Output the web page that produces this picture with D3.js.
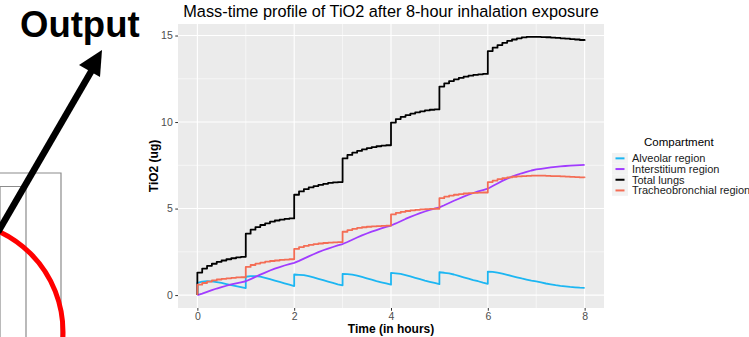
<!DOCTYPE html>
<html>
<head>
<meta charset="utf-8">
<script src="https://cdn.jsdelivr.net/npm/d3@7"></script>
<style>
body { margin: 0; background: #fff; }
svg { display: block; font-family: "Liberation Sans", Arial, sans-serif; }
</style>
</head>
<body>
<script>
// time grid (hours), each whole hour twice: value before and after the dose
var hours = [
0, 0, 0.1, 0.2, 0.3, 0.4, 0.5, 0.6, 0.7, 0.8, 0.9,
1, 1, 1.1, 1.2, 1.3, 1.4, 1.5, 1.6, 1.7, 1.8, 1.9,
2, 2, 2.1, 2.2, 2.3, 2.4, 2.5, 2.6, 2.7, 2.8, 2.9,
3, 3, 3.1, 3.2, 3.3, 3.4, 3.5, 3.6, 3.7, 3.8, 3.9,
4, 4, 4.1, 4.2, 4.3, 4.4, 4.5, 4.6, 4.7, 4.8, 4.9,
5, 5, 5.1, 5.2, 5.3, 5.4, 5.5, 5.6, 5.7, 5.8, 5.9,
6, 6, 6.1, 6.2, 6.3, 6.4, 6.5, 6.6, 6.7, 6.8, 6.9,
7, 7, 7.1, 7.2, 7.3, 7.4, 7.5, 7.6, 7.7, 7.8, 7.9,
8
];

var alveolar = [
0, 0.7, 0.78, 0.8, 0.79, 0.75, 0.7, 0.64, 0.58, 0.52, 0.46,
0.4, 1.06, 1.1, 1.1, 1.07, 1.0, 0.92, 0.84, 0.76, 0.68, 0.6,
0.52, 1.19, 1.17, 1.15, 1.1, 1.02, 0.94, 0.86, 0.78, 0.7, 0.62,
0.56, 1.23, 1.21, 1.18, 1.13, 1.05, 0.97, 0.89, 0.81, 0.74, 0.67,
0.6, 1.28, 1.25, 1.22, 1.16, 1.08, 1.0, 0.92, 0.84, 0.77, 0.7,
0.63, 1.32, 1.29, 1.25, 1.19, 1.11, 1.03, 0.95, 0.87, 0.8, 0.72,
0.65, 1.36, 1.34, 1.3, 1.24, 1.17, 1.1, 1.03, 0.96, 0.9, 0.84,
0.79, 0.79, 0.73, 0.67, 0.62, 0.57, 0.53, 0.5, 0.47, 0.45, 0.43,
0.42
];

var interstitium = [
0, 0, 0.09, 0.19, 0.29, 0.38, 0.46, 0.54, 0.62, 0.68, 0.74,
0.8, 0.8, 0.92, 1.05, 1.18, 1.3, 1.42, 1.53, 1.62, 1.71, 1.79,
1.86, 1.86, 1.98, 2.11, 2.24, 2.36, 2.48, 2.59, 2.69, 2.78, 2.87,
2.95, 2.95, 3.07, 3.2, 3.33, 3.45, 3.56, 3.67, 3.76, 3.85, 3.94,
4.02, 4.02, 4.14, 4.27, 4.4, 4.52, 4.63, 4.74, 4.83, 4.92, 5.0,
5.07, 5.07, 5.19, 5.32, 5.45, 5.57, 5.69, 5.8, 5.9, 5.99, 6.07,
6.15, 6.15, 6.3, 6.45, 6.6, 6.73, 6.85, 6.95, 7.04, 7.12, 7.2,
7.26, 7.26, 7.3, 7.34, 7.38, 7.41, 7.44, 7.46, 7.48, 7.5, 7.51,
7.52
];

var totalLungs = [
0, 1.3, 1.53, 1.69, 1.81, 1.92, 2.0, 2.07, 2.13, 2.18, 2.21,
2.24, 3.55, 3.78, 3.93, 4.05, 4.15, 4.24, 4.31, 4.36, 4.4, 4.43,
4.45, 5.8, 5.99, 6.12, 6.22, 6.3, 6.37, 6.43, 6.48, 6.51, 6.53,
6.55, 7.9, 8.1, 8.23, 8.33, 8.42, 8.49, 8.55, 8.6, 8.64, 8.66,
8.68, 9.97, 10.17, 10.3, 10.4, 10.49, 10.56, 10.62, 10.67, 10.71, 10.73,
10.75, 12.05, 12.24, 12.37, 12.47, 12.55, 12.62, 12.68, 12.73, 12.76, 12.78,
12.8, 14.1, 14.3, 14.45, 14.58, 14.69, 14.77, 14.84, 14.89, 14.92, 14.92,
14.92, 14.92, 14.91, 14.9, 14.88, 14.86, 14.84, 14.82, 14.79, 14.77, 14.74,
14.7
];

var tracheobronchial = [
0, 0.6, 0.7, 0.78, 0.85, 0.9, 0.94, 0.97, 1.0, 1.02, 1.03,
1.04, 1.63, 1.74, 1.82, 1.88, 1.93, 1.97, 2.0, 2.03, 2.05, 2.07,
2.08, 2.67, 2.77, 2.84, 2.9, 2.95, 2.98, 3.01, 3.03, 3.05, 3.06,
3.07, 3.66, 3.76, 3.83, 3.88, 3.92, 3.95, 3.97, 3.99, 4.0, 4.01,
4.02, 4.66, 4.75, 4.81, 4.86, 4.9, 4.93, 4.95, 4.97, 4.98, 4.99,
5.0, 5.6, 5.69, 5.75, 5.8, 5.84, 5.87, 5.89, 5.91, 5.92, 5.93,
5.94, 6.53, 6.62, 6.7, 6.76, 6.8, 6.84, 6.86, 6.88, 6.89, 6.9,
6.9, 6.9, 6.9, 6.89, 6.88, 6.87, 6.86, 6.85, 6.83, 6.82, 6.8,
6.78
];

var compartments = ["Alveolar region", "Interstitium region", "Total lungs", "Tracheobronchial region"];
var seriesValues = [alveolar, interstitium, totalLungs, tracheobronchial];
var colours = ["#1cb6f2", "#a13cff", "#000000", "#f46d55"];
var stepped = [false, false, true, true];

var xTicks = [0, 2, 4, 6, 8];
var xMinor = [1, 3, 5, 7];
var yTicks = [0, 5, 10, 15];
var yMinor = [2.5, 7.5, 12.5];

var larg = 749;
var haut = 337;
var panel = {left: 178, right: 604, top: 24, bottom: 308};

var svg = d3.select("body")
	.append("svg")
	.attr("width", larg)
	.attr("height", haut);

// left part: leftover of the figure (boxes, red circle, arrow, label)
var deco = svg.append("g");
deco.append("path")
	.attr("d", "M-2,173 H61 V340 M0,340 V186.5 H26 V340")
	.attr("fill", "none")
	.attr("stroke", "#8c8c8c")
	.attr("stroke-width", 1.2);
deco.append("circle")
	.attr("cx", -48)
	.attr("cy", 332)
	.attr("r", 111)
	.attr("fill", "none")
	.attr("stroke", "#ff0000")
	.attr("stroke-width", 5);
deco.append("line")
	.attr("x1", -2).attr("y1", 232)
	.attr("x2", 92).attr("y2", 70)
	.attr("stroke", "#000")
	.attr("stroke-width", 6.5);
deco.append("path")
	.attr("d", "M102,50 L79,65 L100,77 Z")
	.attr("fill", "#000");
deco.append("text")
	.attr("x", 20)
	.attr("y", 37)
	.attr("font-size", "36.5px")
	.attr("font-weight", "bold")
	.attr("fill", "#000")
	.text("Output");

// scales with ggplot's 5% expansion
var xMax = d3.max(hours);
var yMax = d3.max(seriesValues, function(s) { return d3.max(s); });
var xScale = d3.scaleLinear()
	.domain([-xMax * 0.05, xMax * 1.05])
	.range([panel.left, panel.right]);
var yScale = d3.scaleLinear()
	.domain([-yMax * 0.05, yMax * 1.05])
	.range([panel.bottom, panel.top]);

svg.append("rect")
	.attr("x", panel.left)
	.attr("y", panel.top)
	.attr("width", panel.right - panel.left)
	.attr("height", panel.bottom - panel.top)
	.attr("fill", "#ebebeb");

var grid = svg.append("g").attr("stroke", "#fff");
grid.selectAll(".xmin").data(xMinor).enter().append("line")
	.attr("x1", function(d) { return xScale(d); })
	.attr("x2", function(d) { return xScale(d); })
	.attr("y1", panel.top).attr("y2", panel.bottom)
	.attr("stroke-width", 0.55);
grid.selectAll(".ymin").data(yMinor).enter().append("line")
	.attr("y1", function(d) { return yScale(d); })
	.attr("y2", function(d) { return yScale(d); })
	.attr("x1", panel.left).attr("x2", panel.right)
	.attr("stroke-width", 0.55);
grid.selectAll(".xmaj").data(xTicks).enter().append("line")
	.attr("x1", function(d) { return xScale(d); })
	.attr("x2", function(d) { return xScale(d); })
	.attr("y1", panel.top).attr("y2", panel.bottom)
	.attr("stroke-width", 1.1);
grid.selectAll(".ymaj").data(yTicks).enter().append("line")
	.attr("y1", function(d) { return yScale(d); })
	.attr("y2", function(d) { return yScale(d); })
	.attr("x1", panel.left).attr("x2", panel.right)
	.attr("stroke-width", 1.1);

// the four curves
seriesValues.forEach(function(values, i) {
	var line = d3.line()
		.x(function(d, j) { return xScale(hours[j]); })
		.y(function(d) { return yScale(d); })
		.curve(stepped[i] ? d3.curveStepAfter : d3.curveLinear);
	svg.append("path")
		.datum(values)
		.attr("d", line)
		.attr("fill", "none")
		.attr("stroke", colours[i])
		.attr("stroke-width", 1.8)
		.attr("stroke-linejoin", "round");
});

// axes
var xAxis = d3.axisBottom(xScale).tickValues(xTicks).tickSize(2.75).tickPadding(2.2);
var yAxis = d3.axisLeft(yScale).tickValues(yTicks).tickSize(2.75).tickPadding(2.5);
var gx = svg.append("g")
	.attr("transform", "translate(0," + panel.bottom + ")")
	.call(xAxis);
var gy = svg.append("g")
	.attr("transform", "translate(" + panel.left + ",0)")
	.call(yAxis);
[gx, gy].forEach(function(g) {
	g.select(".domain").remove();
	g.selectAll(".tick line").attr("stroke", "#333").attr("stroke-width", 1);
	g.selectAll(".tick text")
		.attr("fill", "#4d4d4d")
		.attr("font-size", "10.5px")
		.attr("font-family", "Liberation Sans, Arial, sans-serif");
});

svg.append("text")
	.attr("x", (panel.left + panel.right) / 2)
	.attr("y", 17)
	.attr("text-anchor", "middle")
	.attr("font-size", "16.3px")
	.attr("fill", "#000")
	.text("Mass-time profile of TiO2 after 8-hour inhalation exposure");

svg.append("text")
	.attr("x", (panel.left + panel.right) / 2)
	.attr("y", 332.5)
	.attr("text-anchor", "middle")
	.attr("font-size", "12px")
	.attr("font-weight", "bold")
	.text("Time (in hours)");

svg.append("text")
	.attr("transform", "translate(158," + (panel.top + panel.bottom) / 2 + ") rotate(-90)")
	.attr("text-anchor", "middle")
	.attr("font-size", "12px")
	.attr("font-weight", "bold")
	.text("TiO2 (ug)");

// legend
var legend = svg.append("g").attr("transform", "translate(612,153)");
legend.append("text")
	.attr("x", 32)
	.attr("y", -7)
	.attr("font-size", "11.5px")
	.attr("fill", "#000")
	.text("Compartment");
var rows = legend.selectAll(".row")
	.data(compartments)
	.enter()
	.append("g")
	.attr("transform", function(d, i) { return "translate(0," + i * 10.7 + ")"; });
rows.append("rect")
	.attr("width", 16)
	.attr("height", 10.7)
	.attr("fill", "#f2f2f2");
rows.append("line")
	.attr("x1", 3.5).attr("x2", 12.5)
	.attr("y1", 5.35).attr("y2", 5.35)
	.attr("stroke", function(d, i) { return colours[i]; })
	.attr("stroke-width", 2);
rows.append("text")
	.attr("x", 20)
	.attr("y", 9.2)
	.attr("font-size", "11px")
	.attr("fill", "#1a1a1a")
	.text(function(d) { return d; });
</script>
</body>
</html>
